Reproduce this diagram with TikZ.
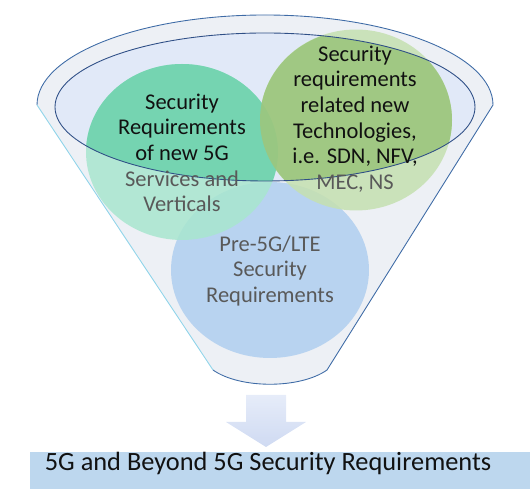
\documentclass[tikz,border=0pt]{standalone}
\usepackage{fontspec}
\setmainfont{Carlito}
\usetikzlibrary{shapes.geometric}

\definecolor{tealout}{HTML}{A8E6CF}
\definecolor{tealin}{HTML}{6FD3AE}
\definecolor{oliveout}{HTML}{C5E0B0}
\definecolor{olivein}{HTML}{9CC67E}
\definecolor{bluecirc}{HTML}{B8D3F0}
\definecolor{rimfill}{HTML}{E1E9F8}
\definecolor{rimline}{HTML}{2F4F86}
\definecolor{funneldark}{HTML}{3E6BA6}
\definecolor{funnellight}{HTML}{8FD4EA}
\definecolor{funneledge}{HTML}{EDF0F5}
\definecolor{barblue}{HTML}{BDD7EE}
\definecolor{arrowtop}{HTML}{E6ECF9}
\definecolor{arrowbot}{HTML}{CFDAF2}
\definecolor{txtdark}{HTML}{111111}
\definecolor{txtgray}{HTML}{595959}

\tikzset{
  bubble/.style={ellipse, inner sep=0pt, draw=none},
  bubbletext/.style={align=center, text=txtdark, font=\fontsize{12.8}{14.6}\selectfont},
}

\begin{document}
\begin{tikzpicture}[x=0.02cm,y=0.02cm]
\useasboundingbox (0,0) rectangle (530,489);

% funnel body
\shade[left color=funneledge, middle color=white, right color=funneledge]
  (37,384) arc[start angle=180,end angle=0,x radius=228,y radius=90]
  -- (327,119) .. controls (300,100) and (240,100) .. (213,119) -- cycle;
\draw[funneldark, line width=0.5pt]
  (37,384) arc[start angle=180,end angle=0,x radius=228,y radius=90]
  -- (327,119) .. controls (300,100) and (240,100) .. (213,119);
\draw[funnellight, line width=0.5pt] (213,119) -- (37,384);

% rim of the funnel
\fill[rimfill] (265,382) ellipse [x radius=210, y radius=74];

% the three sets of requirements
\node[bubble, fill=bluecirc, minimum width=3.96cm, minimum height=3.52cm] (Pblue) at (270,219) {};
\node[bubble, fill=tealout, fill opacity=0.85, minimum width=3.84cm, minimum height=3.52cm] (Pteal) at (182,337) {};
\node[bubble, fill=oliveout, fill opacity=0.85, minimum width=3.84cm, minimum height=3.62cm] (Polive) at (356,369) {};
\begin{scope}
  \clip (265,382) ellipse [x radius=210, y radius=74];
  \fill[tealin, opacity=0.9] (Pteal.center) ellipse [x radius=96, y radius=88];
  \fill[olivein, opacity=0.9] (Polive.center) ellipse [x radius=96, y radius=90];
\end{scope}
\draw[rimline, line width=0.5pt] (265,382) ellipse [x radius=210, y radius=74];

\node[bubbletext] (Tteal) at (182,336) {Security\\Requirements\\of new 5G\\
  \textcolor{txtgray}{Services and}\\\textcolor{txtgray}{Verticals}};
\node[bubbletext] (Tolive) at (355,370) {Security\\requirements\\related new\\Technologies,\\
  i.e. SDN, NFV,\\\textcolor{txtgray}{MEC, NS}};
\node[bubbletext, text=txtgray] (Tblue) at (270,218) {Pre-5G/LTE\\Security\\Requirements};

% arrow and result
\shade[top color=arrowtop, bottom color=arrowbot]
  (246,94) -- (286,94) -- (286,67) -- (306,67) -- (266,42) -- (226,67) -- (246,67) -- cycle;
\node[fill=barblue, inner sep=0pt, minimum width=10cm, minimum height=0.74cm, anchor=south west] (Pbar) at (30,0) {};
\node[font=\fontsize{15}{18}\selectfont, text=txtdark] (Pgoal) at (268,26) {5G and Beyond 5G Security Requirements};
\end{tikzpicture}
\end{document}
